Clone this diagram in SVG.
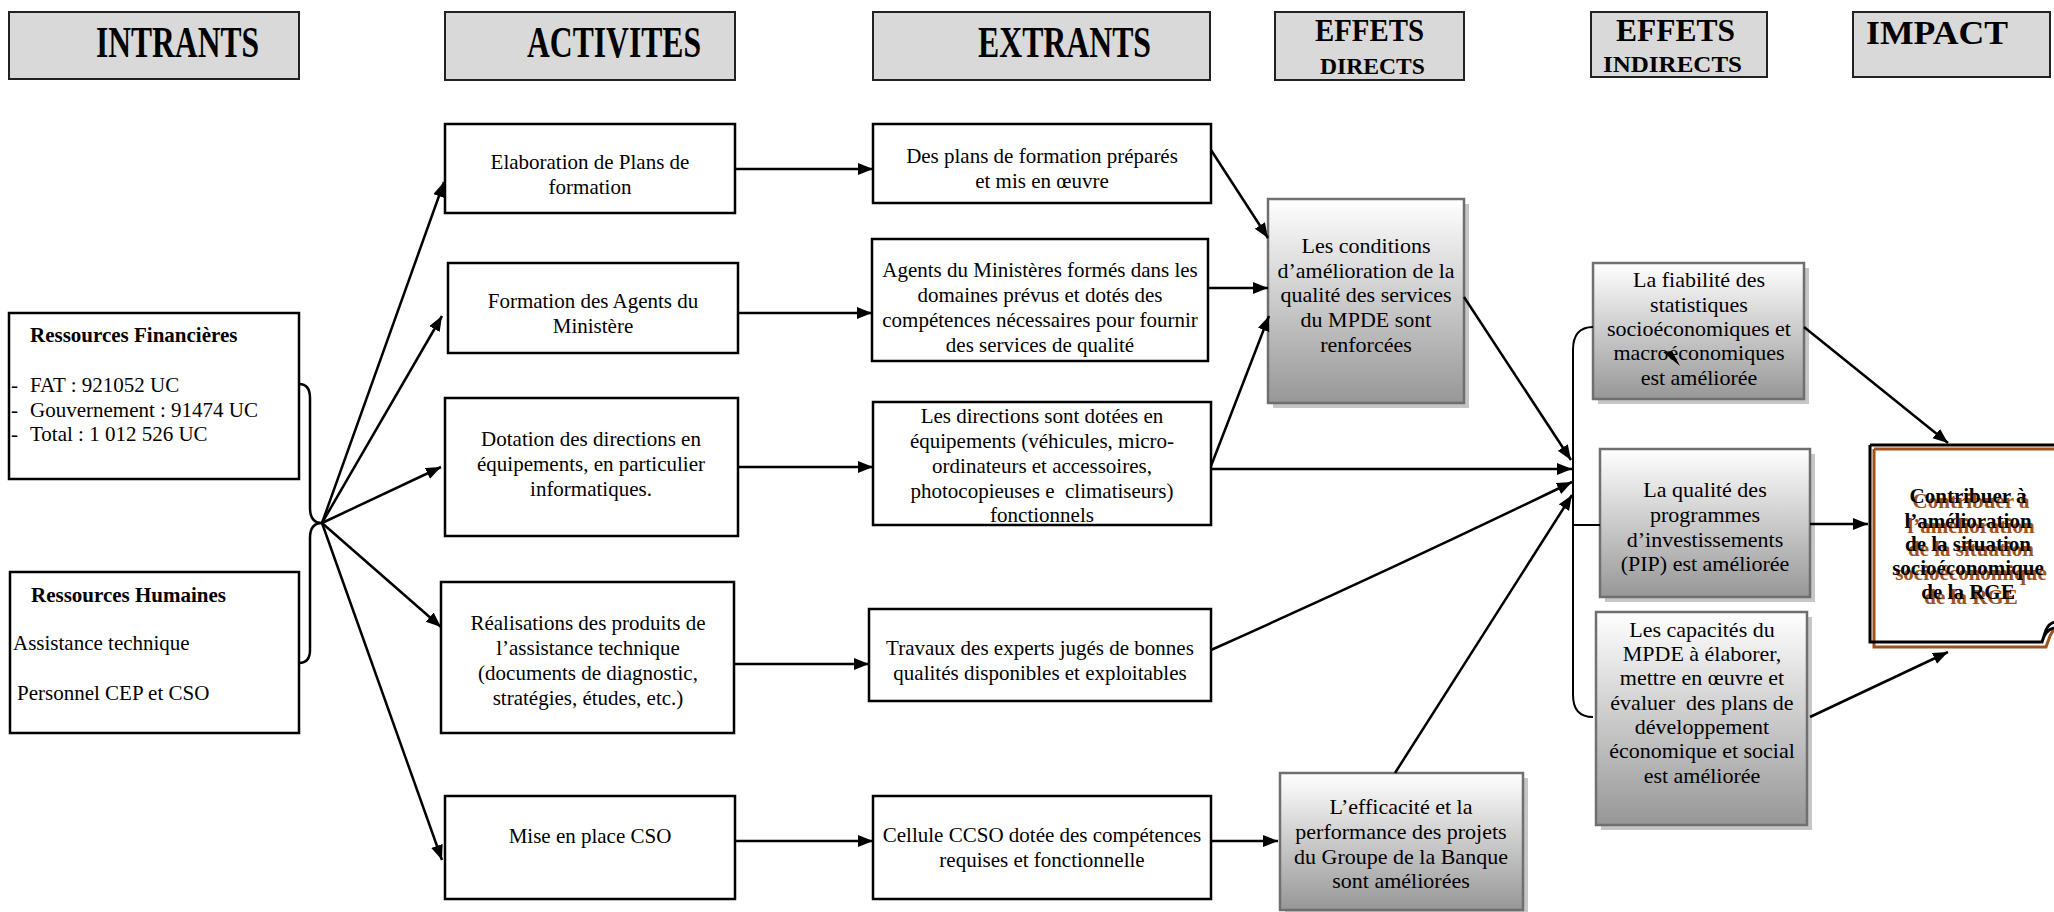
<svg xmlns="http://www.w3.org/2000/svg" width="2054" height="912" viewBox="0 0 2054 912">
<style>
text{font-family:"Liberation Serif","Times New Roman",serif;fill:#000}
.hdr rect{fill:#d9d9d9;stroke:#222;stroke-width:2}
.hdr text{font-weight:bold}
.h1{font-size:44px}
.box{fill:#fff;stroke:#000;stroke-width:2.5}
.t{font-size:21px;text-anchor:middle}
.tl{font-size:21px}
.b{font-weight:bold}
.g{fill:url(#grad);stroke:#6f6f6f;stroke-width:2.5}
.sh{fill:#c6c6c6}
.tg{font-size:22px;text-anchor:middle}
.con line,.con path{stroke:#000;stroke-width:2.5;fill:none}
.arr{marker-end:url(#ah)}
.imp{font-size:21px;font-weight:bold;text-anchor:middle}
.imps{fill:#a0521c}
</style>
<defs>
<linearGradient id="grad" x1="0" y1="0" x2="0" y2="1">
<stop offset="0" stop-color="#ffffff"/>
<stop offset="1" stop-color="#979797"/>
</linearGradient>
<marker id="ah" markerUnits="userSpaceOnUse" markerWidth="16" markerHeight="13" refX="15" refY="6" orient="auto">
<path d="M0,0 L15,6 L0,12 z" fill="#000"/>
</marker>
</defs>
<rect width="2054" height="912" fill="#fff"/>

<g id="h-intrants" class="hdr"><rect x="9" y="12" width="290" height="67"/><text class="h1" x="96" y="57" textLength="163" lengthAdjust="spacingAndGlyphs">INTRANTS</text></g>
<g id="h-activites" class="hdr"><rect x="445" y="12" width="290" height="68"/><text class="h1" x="527" y="57" textLength="174" lengthAdjust="spacingAndGlyphs">ACTIVITES</text></g>
<g id="h-extrants" class="hdr"><rect x="873" y="12" width="337" height="68"/><text class="h1" x="978" y="57" textLength="173" lengthAdjust="spacingAndGlyphs">EXTRANTS</text></g>
<g id="h-effets-directs" class="hdr"><rect x="1275" y="12" width="189" height="68"/><text x="1315" y="41" font-size="32" textLength="109" lengthAdjust="spacingAndGlyphs">EFFETS</text><text x="1320" y="74" font-size="24" textLength="105" lengthAdjust="spacingAndGlyphs">DIRECTS</text></g>
<g id="h-effets-indirects" class="hdr"><rect x="1591" y="12" width="176" height="65"/><text x="1616" y="41" font-size="32" textLength="119" lengthAdjust="spacingAndGlyphs">EFFETS</text><text x="1603" y="72" font-size="24" textLength="139" lengthAdjust="spacingAndGlyphs">INDIRECTS</text></g>
<g id="h-impact" class="hdr"><rect x="1853" y="12" width="197" height="65"/><text x="1866" y="44" font-size="34" textLength="142" lengthAdjust="spacingAndGlyphs">IMPACT</text></g>

<g id="n-fin"><rect class="box" x="9" y="313" width="290" height="166"/>
<text class="tl b" x="30" y="342">Ressources Financières</text>
<text class="tl" x="11" y="392">-</text><text class="tl" x="30" y="392">FAT : 921052 UC</text>
<text class="tl" x="11" y="417">-</text><text class="tl" x="30" y="417">Gouvernement : 91474 UC</text>
<text class="tl" x="11" y="441">-</text><text class="tl" x="30" y="441">Total : 1 012 526 UC</text></g>
<g id="n-hum"><rect class="box" x="10" y="572" width="289" height="161"/>
<text class="tl b" x="31" y="602">Ressources Humaines</text>
<text class="tl" x="13" y="650">Assistance technique</text>
<text class="tl" x="17" y="700">Personnel CEP et CSO</text></g>

<g id="n-elab"><rect class="box" x="445" y="124" width="290" height="89"/>
<text class="t" x="590" y="169">Elaboration de Plans de</text><text class="t" x="590" y="194">formation</text></g>
<g id="n-form"><rect class="box" x="448" y="263" width="290" height="90"/>
<text class="t" x="593" y="308">Formation des Agents du</text><text class="t" x="593" y="333">Ministère</text></g>
<g id="n-dot"><rect class="box" x="445" y="398" width="293" height="138"/>
<text class="t" x="591" y="446">Dotation des directions en</text><text class="t" x="591" y="471">équipements, en particulier</text><text class="t" x="591" y="496">informatiques.</text></g>
<g id="n-real"><rect class="box" x="441" y="582" width="293" height="151"/>
<text class="t" x="588" y="630">Réalisations des produits de</text><text class="t" x="588" y="655">l’assistance technique</text><text class="t" x="588" y="680">(documents de diagnostic,</text><text class="t" x="588" y="705">stratégies, études, etc.)</text></g>
<g id="n-mise"><rect class="box" x="445" y="796" width="290" height="103"/>
<text class="t" x="590" y="843">Mise en place CSO</text></g>

<g id="n-plans"><rect class="box" x="873" y="124" width="338" height="79"/>
<text class="t" x="1042" y="163">Des plans de formation préparés</text><text class="t" x="1042" y="188">et mis en œuvre</text></g>
<g id="n-agents"><rect class="box" x="872" y="239" width="336" height="122"/>
<text class="t" x="1040" y="277">Agents du Ministères formés dans les</text><text class="t" x="1040" y="302">domaines prévus et dotés des</text><text class="t" x="1040" y="327">compétences nécessaires pour fournir</text><text class="t" x="1040" y="352">des services de qualité</text></g>
<g id="n-dir"><rect class="box" x="873" y="402" width="338" height="123"/>
<text class="t" x="1042" y="423">Les directions sont dotées en</text><text class="t" x="1042" y="448">équipements (véhicules, micro-</text><text class="t" x="1042" y="473">ordinateurs et accessoires,</text><text class="t" x="1042" y="498" xml:space="preserve">photocopieuses e  climatiseurs)</text><text class="t" x="1042" y="522">fonctionnels</text></g>
<g id="n-trav"><rect class="box" x="869" y="609" width="342" height="92"/>
<text class="t" x="1040" y="655">Travaux des experts jugés de bonnes</text><text class="t" x="1040" y="680">qualités disponibles et exploitables</text></g>
<g id="n-cell"><rect class="box" x="873" y="796" width="338" height="103"/>
<text class="t" x="1042" y="842">Cellule CCSO dotée des compétences</text><text class="t" x="1042" y="867">requises et fonctionnelle</text></g>

<g id="n-cond"><rect class="sh" x="1273" y="204" width="196" height="204"/><rect class="g" x="1268" y="199" width="196" height="204"/>
<text class="tg" x="1366" y="253">Les conditions</text><text class="tg" x="1366" y="278">d’amélioration de la</text><text class="tg" x="1366" y="302">qualité des services</text><text class="tg" x="1366" y="327">du MPDE sont</text><text class="tg" x="1366" y="352">renforcées</text></g>
<g id="n-eff"><rect class="sh" x="1285" y="778" width="243" height="137"/><rect class="g" x="1280" y="773" width="243" height="137"/>
<text class="tg" x="1401" y="814">L’efficacité et la</text><text class="tg" x="1401" y="839">performance des projets</text><text class="tg" x="1401" y="864">du Groupe de la Banque</text><text class="tg" x="1401" y="888">sont améliorées</text></g>

<g id="n-fiab"><rect class="sh" x="1598" y="268" width="211" height="136"/><rect class="g" x="1593" y="263" width="211" height="136"/>
<text class="tg" x="1699" y="287">La fiabilité des</text><text class="tg" x="1699" y="312">statistiques</text><text class="tg" x="1699" y="336">socioéconomiques et</text><text class="tg" x="1699" y="360">macroéconomiques</text><text class="tg" x="1699" y="385">est améliorée</text></g>
<g id="n-pip"><rect class="sh" x="1605" y="454" width="210" height="148"/><rect class="g" x="1600" y="449" width="210" height="148"/>
<text class="tg" x="1705" y="497">La qualité des</text><text class="tg" x="1705" y="522">programmes</text><text class="tg" x="1705" y="547">d’investissements</text><text class="tg" x="1705" y="571">(PIP) est améliorée</text></g>
<g id="n-cap"><rect class="sh" x="1601" y="617" width="211" height="213"/><rect class="g" x="1596" y="612" width="211" height="213"/>
<text class="tg" x="1702" y="637">Les capacités du</text><text class="tg" x="1702" y="661">MPDE à élaborer,</text><text class="tg" x="1702" y="685">mettre en œuvre et</text><text class="tg" x="1702" y="710" xml:space="preserve">évaluer  des plans de</text><text class="tg" x="1702" y="734">développement</text><text class="tg" x="1702" y="758">économique et social</text><text class="tg" x="1702" y="783">est améliorée</text></g>

<g id="n-impact">
<path d="M1870,445 H2062 V622 Q2050,620 2046,630 L2042,642 H1870 Z" fill="#fff"/>
<path d="M1874,449 H2062 M1874,449 V647 H2046 L2050,636 Q2054,627 2062,627" fill="none" stroke="#a0521c" stroke-width="3"/>
<path d="M1870,445 H2062 M1870,445 V642 H2042 L2046,630 Q2050,620 2062,622 M2042,642 Q2045,630 2054,628" fill="none" stroke="#000" stroke-width="3"/>
<g transform="translate(3,5)"><text class="imp imps" x="1968" y="503">Contribuer à</text><text class="imp imps" x="1968" y="528">l’amélioration</text><text class="imp imps" x="1968" y="551">de la situation</text><text class="imp imps" x="1968" y="575">socioéconomique</text><text class="imp imps" x="1968" y="599">de la RGE</text></g>
<text class="imp" x="1968" y="503">Contribuer à</text><text class="imp" x="1968" y="528">l’amélioration</text><text class="imp" x="1968" y="551">de la situation</text><text class="imp" x="1968" y="575">socioéconomique</text><text class="imp" x="1968" y="599">de la RGE</text>
</g>

<g id="connectors" class="con">
<path d="M299,384 Q310,384 310,398 L310,508 Q310,523 322,523 Q310,523 310,538 L310,650 Q310,663 299,663"/>
<line class="arr" x1="322" y1="523" x2="444" y2="182"/>
<line class="arr" x1="322" y1="523" x2="442" y2="316"/>
<line class="arr" x1="322" y1="523" x2="441" y2="467"/>
<line class="arr" x1="322" y1="523" x2="441" y2="627"/>
<line class="arr" x1="322" y1="523" x2="442" y2="860"/>
<line class="arr" x1="735" y1="169" x2="873" y2="169"/>
<line class="arr" x1="738" y1="313" x2="872" y2="313"/>
<line class="arr" x1="738" y1="467" x2="873" y2="467"/>
<line class="arr" x1="734" y1="664" x2="869" y2="664"/>
<line class="arr" x1="735" y1="841" x2="873" y2="841"/>
<line class="arr" x1="1211" y1="150" x2="1268" y2="238"/>
<line class="arr" x1="1208" y1="288" x2="1268" y2="288"/>
<line class="arr" x1="1211" y1="466" x2="1269" y2="316"/>
<line class="arr" x1="1211" y1="469" x2="1572" y2="469"/>
<path class="arr" d="M1211,650 Q1390,570 1572,482"/>
<line class="arr" x1="1395" y1="773" x2="1572" y2="495"/>
<line class="arr" x1="1464" y1="297" x2="1571" y2="460"/>
<line class="arr" x1="1211" y1="841" x2="1278" y2="841"/>
<path d="M1593,327 Q1573,327 1573,350 L1573,695 Q1573,717 1593,717 M1573,525 H1600" style="stroke-width:2"/>
<line class="arr" x1="1804" y1="327" x2="1948" y2="443"/>
<line class="arr" x1="1810" y1="524" x2="1868" y2="524"/>
<line class="arr" x1="1810" y1="717" x2="1948" y2="652"/>
<path d="M1663,352 L1680,366 L1672,351 Z" style="fill:#000;stroke:none"/>
</g>
</svg>
